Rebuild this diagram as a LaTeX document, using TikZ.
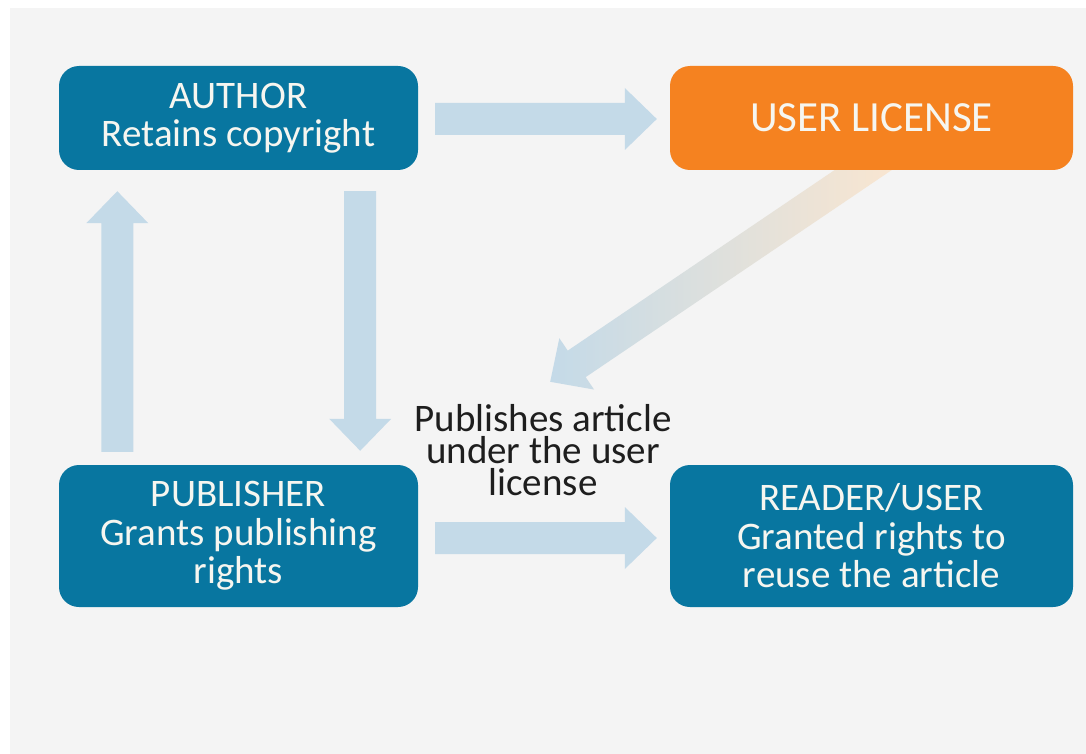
\documentclass[tikz,border=0pt]{standalone}
\usepackage{fontspec}
\setmainfont{Carlito}
\usetikzlibrary{calc}
\definecolor{boxblue}{RGB}{8,118,160}
\definecolor{boxorange}{RGB}{245,130,32}
\definecolor{arrowblue}{RGB}{196,218,232}
\definecolor{arrowpeach}{RGB}{250,230,208}
\definecolor{bggray}{RGB}{244,244,244}
\definecolor{boxtext}{RGB}{246,246,240}
\definecolor{labeltext}{RGB}{30,30,30}
\pgfdeclarelayer{bg}
\pgfsetlayers{bg,main}
% #1 path options, #2 tail coordinate, #3 tip coordinate
\newcommand\blockarrow[3][fill=arrowblue]{%
  \coordinate (ah) at ($(#3)!32pt!(#2)$);
  \path[#1] ($(#2)!16pt!90:(#3)$) -- ($(ah)!16pt!90:(#3)$) --
    ($(ah)!31pt!90:(#3)$) -- (#3) -- ($(ah)!31pt!-90:(#3)$) --
    ($(ah)!16pt!-90:(#3)$) -- ($(#2)!16pt!-90:(#3)$) -- cycle;
}
\tikzset{
  box/.style={rounded corners=20pt, inner sep=0pt, align=center,
    text=boxtext, font=\fontsize{39}{38.5}\selectfont},
  bluebox/.style={box, fill=boxblue},
  orangebox/.style={box, fill=boxorange, font=\fontsize{43}{44}\selectfont},
  label/.style={inner sep=0pt, align=center, text=labeltext,
    font=\fontsize{39}{32}\selectfont}
}
\begin{document}
\begin{tikzpicture}[x=1pt,y=-1pt]
\useasboundingbox (0,0) rectangle (1086,754);
\node[bluebox, minimum width=359pt, minimum height=104pt] (author) at (238.5,118) {AUTHOR\\Retains copyright};
\node[orangebox, minimum width=403pt, minimum height=104pt] (license) at (871.5,118) {USER LICENSE};
\node[bluebox, minimum width=359pt, minimum height=142pt] (publisher) at (238.5,536) {PUBLISHER\\Grants publishing\\rights};
\node[bluebox, minimum width=403pt, minimum height=142pt] (reader) at (871.5,536) {READER/USER\\Granted rights to\\reuse the article};
\node[label] (pubtext) at (543,450) {Publishes article\\under the user\\license};
% connector end points
\coordinate (a1s) at ($(author.east)+(17,1)$);
\coordinate (a1t) at ($(license.west)+(-13,1)$);
\coordinate (a2s) at ($(author.south east)+(-58,21)$);
\coordinate (a2t) at ($(publisher.north east)+(-58,-14)$);
\coordinate (a3s) at ($(publisher.north west)+(58.5,-13)$);
\coordinate (a3t) at ($(author.south west)+(58.5,21)$);
\coordinate (a4s) at ($(publisher.east)+(17,2)$);
\coordinate (a4t) at ($(reader.west)+(-13,2)$);
\coordinate (a5s) at ($(license.south)+(21,-20)$);
\coordinate (a5t) at ($(publisher.north east)+(132,-83)$);
\begin{pgfonlayer}{bg}
  \fill[white] (0,0) rectangle (1086,754);
  \fill[bggray] (10,8) rectangle (1086,754);
  \blockarrow{a1s}{a1t}
  \blockarrow{a2s}{a2t}
  \blockarrow{a3s}{a3t}
  \blockarrow{a4s}{a4t}
  \blockarrow[left color=arrowblue, right color=arrowpeach]{a5s}{a5t}
\end{pgfonlayer}
\end{tikzpicture}
\end{document}
